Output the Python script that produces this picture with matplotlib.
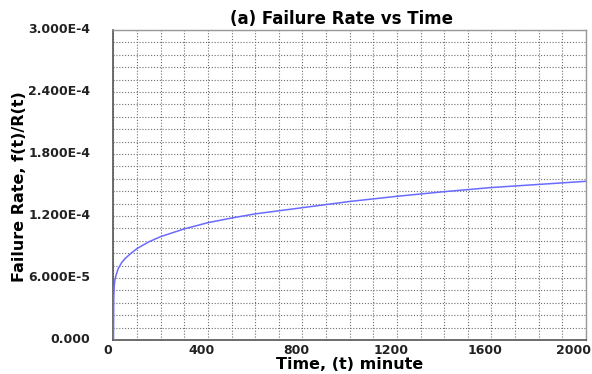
import matplotlib.pyplot as plt
import matplotlib.transforms as mtransforms
from matplotlib.ticker import MultipleLocator

# values
time_min = [0, 1, 3, 6, 10, 20, 35, 50, 75, 100, 150, 200, 300, 400, 500, 600,
            800, 1000, 1200, 1400, 1600, 1800, 2000]
failure_rate = [0.0, 4.0e-5, 5.2e-5, 5.8e-5, 6.2e-5, 6.9e-5, 7.5e-5, 7.9e-5, 8.4e-5,
                8.85e-5, 9.5e-5, 1.0e-4, 1.075e-4, 1.135e-4, 1.18e-4, 1.22e-4,
                1.28e-4, 1.34e-4, 1.39e-4, 1.435e-4, 1.475e-4, 1.505e-4, 1.535e-4]

x_ticks = [0, 400, 800, 1200, 1600, 2000]
x_tick_labels = ["0", "400", "800", "1200", "1600", "2000"]
y_ticks = [0.0, 6e-5, 1.2e-4, 1.8e-4, 2.4e-4, 3.0e-4]
y_tick_labels = ["0.000", "6.000E-5", "1.200E-4", "1.800E-4", "2.400E-4", "3.000E-4"]

fig = plt.figure(figsize=(5.92, 3.74), dpi=100)
ax = fig.add_axes([0.1917, 0.091, 0.798, 0.829])

ax.plot(time_min, failure_rate, color="#6a6aff", lw=1.1, zorder=3)

ax.set_xlim(0, 2000)
ax.set_ylim(0, 3e-4)
ax.set_xticks(x_ticks, x_tick_labels, fontsize=9, fontweight="bold", color="#222222")
ax.set_yticks(y_ticks, [])
ax.xaxis.set_minor_locator(MultipleLocator(100))
ax.yaxis.set_minor_locator(MultipleLocator(1.2e-5))

ax.grid(which="both", color="#6e6e6e", linestyle=(0, (1, 1.6)), lw=0.8)
ax.tick_params(which="both", length=0)
ax.tick_params(axis="x", pad=3)

# x labels sit a little left of their ticks in the reference
for i, lab in enumerate(ax.get_xticklabels()):
    dx = -12 if i == len(x_ticks) - 1 else -6
    lab.set_transform(lab.get_transform() + mtransforms.ScaledTranslation(dx / 100, 0, fig.dpi_scale_trans))

# y labels stand well away from the axis
ytrans = mtransforms.blended_transform_factory(ax.transAxes, ax.transData)
for v, txt in zip(y_ticks, y_tick_labels):
    ax.text(-0.049, v, txt, transform=ytrans, ha="right", va="center",
            fontsize=9, fontweight="bold", color="#222222")

for s in ["left", "bottom"]:
    ax.spines[s].set_color("#555555")
    ax.spines[s].set_linewidth(1.2)
for s in ["top", "right"]:
    ax.spines[s].set_color("#999999")
    ax.spines[s].set_linewidth(1.0)

ax.set_title("(a) Failure Rate vs Time", fontsize=12, fontweight="bold", pad=4, x=0.482)
ax.set_xlabel("Time, (t) minute", fontsize=11.5, fontweight="bold", labelpad=0)
ax.set_ylabel("Failure Rate, f(t)/R(t)", fontsize=11.5, fontweight="bold")
ax.yaxis.set_label_coords(27 / 592, 0.5, transform=fig.transFigure)

fig.savefig("out.png", dpi=100)
